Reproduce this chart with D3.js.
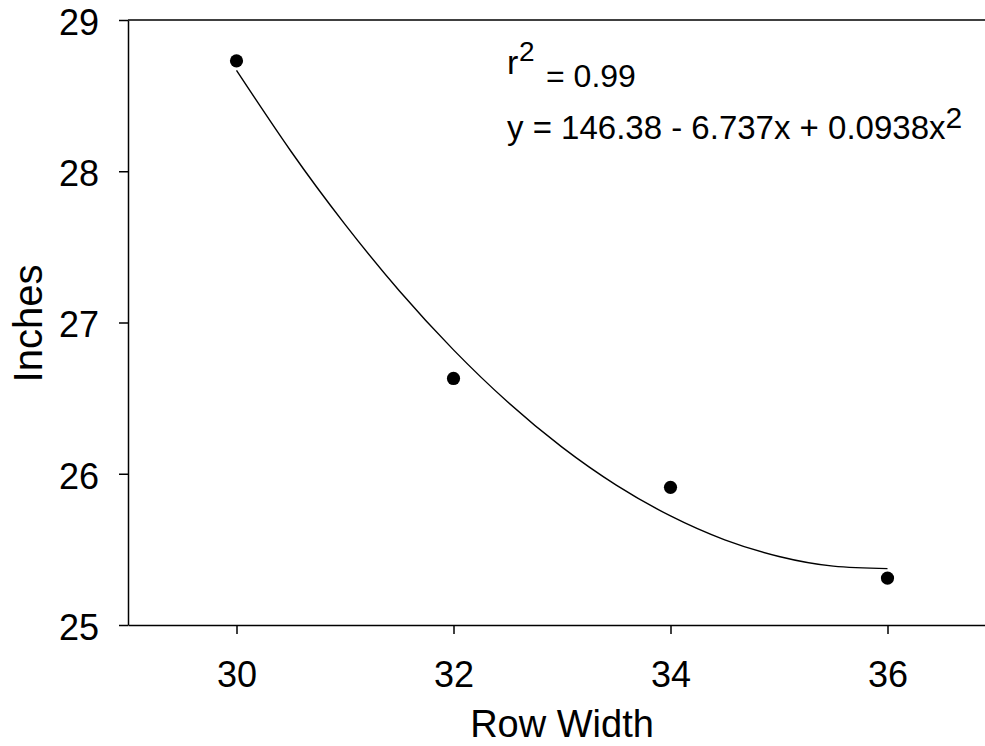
<!DOCTYPE html>
<html>
<head>
<meta charset="utf-8">
<script src="https://cdn.jsdelivr.net/npm/d3@7"></script>
<style>
  body { margin: 0; background: #fff; }
  text { font-family: Arial, "Liberation Sans", Helvetica, sans-serif; fill: #000; }
</style>
</head>
<body>
<div id="chart"></div>
<script>
// measured values
var rowWidth = [30, 32, 34, 36];
var inches = [28.73, 26.63, 25.91, 25.31];

// fitted curve, every half unit
var fitX = [30, 30.5, 31, 31.5, 32, 32.5, 33, 33.5, 34, 34.5, 35, 35.5, 36];
var fitY = [28.667, 28.134, 27.649, 27.210, 26.819, 26.474, 26.176, 25.925, 25.721, 25.563, 25.453, 25.389, 25.373];

var xTicks = [30, 32, 34, 36];
var yTicks = [25, 26, 27, 28, 29];

var margin = {top: 20, right: 0, bottom: 121, left: 128},
    width = 868,
    height = 746 - margin.top - margin.bottom;

var svg = d3.select("#chart").append("svg")
    .attr("width", 985)
    .attr("height", 746)
  .append("g")
    .attr("transform", "translate(" + margin.left + "," + margin.top + ")");

var x = d3.scaleLinear().domain([29, 37]).range([0, width]);
var y = d3.scaleLinear().domain([25, 29]).range([height, 0]);

// top frame line
svg.append("line")
    .attr("x1", 0).attr("x2", width)
    .attr("y1", 0).attr("y2", 0)
    .style("stroke", "#000")
    .style("stroke-width", "1.5px");

// x axis
var xAxis = svg.append("g")
    .attr("transform", "translate(0," + height + ")")
    .call(d3.axisBottom(x).tickValues(xTicks).tickFormat(d3.format("d"))
        .tickSize(9).tickPadding(27).tickSizeOuter(0));
xAxis.selectAll("text").style("font-size", "36px");

// y axis
var yAxis = svg.append("g")
    .call(d3.axisLeft(y).tickValues(yTicks).tickFormat(d3.format("d"))
        .tickSize(9).tickPadding(20).tickSizeOuter(0));
yAxis.selectAll("text").style("font-size", "36px").attr("dy", "0.4em");

svg.selectAll(".domain, .tick line")
    .style("stroke", "#000")
    .style("stroke-width", "1.5px");

// axis titles
svg.append("text")
    .attr("x", width / 2)
    .attr("y", 717)
    .style("text-anchor", "middle")
    .style("font-size", "38px")
    .text("Row Width");

svg.append("text")
    .attr("transform", "rotate(-90)")
    .attr("x", -(height / 2) - 1)
    .attr("y", 42 - margin.left)
    .style("text-anchor", "middle")
    .style("font-size", "40px")
    .text("Inches");

// regression curve
var fitData = fitX.map(function(d, i) { return {x: d, y: fitY[i]}; });
var lineFunc = d3.line()
    .curve(d3.curveNatural)
    .x(function(d) { return x(d.x); })
    .y(function(d) { return y(d.y); });

svg.append("path")
    .datum(fitData)
    .attr("d", lineFunc)
    .style("fill", "none")
    .style("stroke", "#000")
    .style("stroke-width", "1.4px");

// points
svg.selectAll("circle")
    .data(rowWidth)
  .enter().append("circle")
    .attr("cx", function(d) { return x(d); })
    .attr("cy", function(d, i) { return y(inches[i]); })
    .attr("r", 6.6)
    .style("fill", "#000");

// annotation
var note = svg.append("g").attr("transform", "translate(" + (-margin.left) + "," + (-margin.top) + ")");
note.append("text").attr("x", 507).attr("y", 74).style("font-size", "34px").text("r");
note.append("text").attr("x", 519).attr("y", 61).style("font-size", "28px").text("2");
note.append("text").attr("x", 546).attr("y", 87).style("font-size", "32px").text("= 0.99");
note.append("text")
    .attr("x", 507)
    .attr("y", 139)
    .style("font-size", "33px")
    .text("y = 146.38 - 6.737x + 0.0938x")
  .append("tspan")
    .attr("dy", -11)
    .style("font-size", "30px")
    .text("2");
</script>
</body>
</html>
